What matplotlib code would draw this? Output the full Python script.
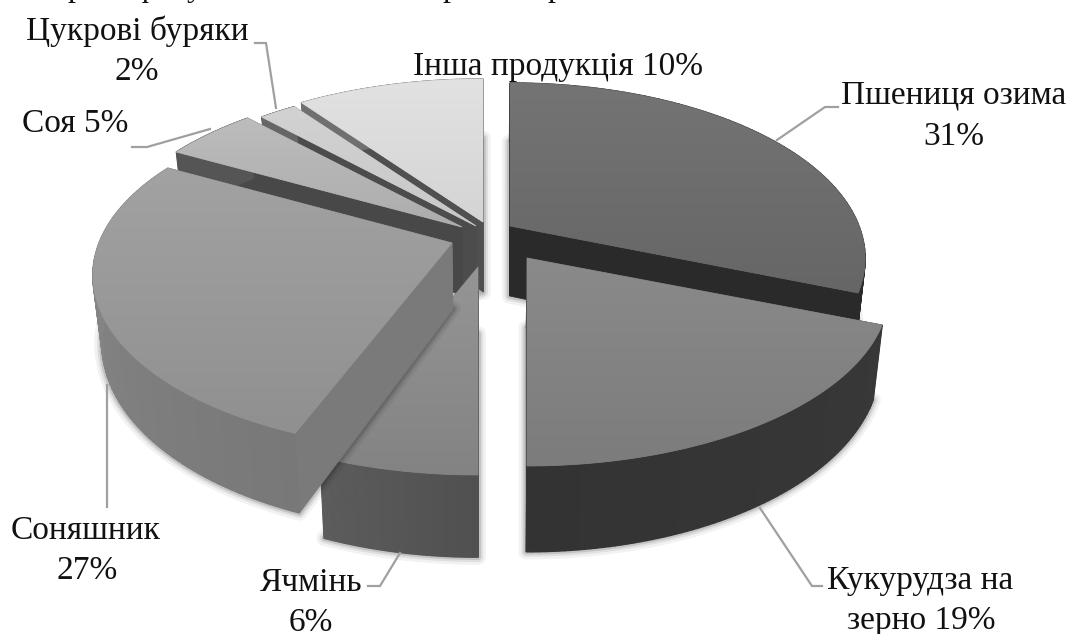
#!/usr/bin/env python3
# exploded pseudo-3D pie, drawn in pixel space with a small perspective model
import numpy as np
import matplotlib
matplotlib.use("Agg")
import matplotlib.pyplot as plt
from matplotlib.patches import Polygon

plt.rcParams["font.family"] = ["Liberation Serif", "DejaVu Serif"]

# ---------- data ----------
crops = ["Пшениця озима", "Кукурудза на зерно", "Ячмінь", "Соняшник",
         "Соя", "Цукрові буряки", "Інша продукція"]
shares = [31, 19, 6, 27, 5, 2, 10]

# ---------- look ----------
RY, PERSP, SHRINK, VX = 169.5, 0.185, 0.977, 490
# per-slice explode offset (apex), half width and thickness, pixels
apex = [(510, 226), (527, 258), (478, 267), (452, 243), (462, 227), (476, 226), (483, 222)]
rx = [349, 356, 355, 353, 355, 355, 355]
depth = [70, 70, 67, 66, 68, 68, 70]
top_col = [("#747474", "#666666"), ("#8a8a8a", "#7c7c7c"), ("#959595", "#838383"),
           ("#a2a2a2", "#909090"), ("#bcbcbc", "#adadad"), ("#d2d2d2", "#c8c8c8"),
           ("#e2e2e2", "#d4d4d4")]
wall_col = [("#2a2a2a", "#2a2a2a"), ("#383838", "#333333"), ("#505050", "#5c5c5c"),
            ("#787878", "#8c8c8c"), ("#555555", "#555555"), ("#666666", "#666666"),
            ("#707070", "#707070")]
radial_col = ["#2a2a2a", "#383838", "#505050", "#7a7a7a", "#484848", "#4c4c4c", "#505050"]
draw_order = [6, 5, 4, 2, 3, 0, 1]

fig = plt.figure(figsize=(10.7, 6.34), dpi=100)
ax = fig.add_axes([0, 0, 1, 1])


def project(i, theta):
    # theta runs clockwise from 12 o'clock
    x, y = np.sin(theta), np.cos(theta)
    w = 1 + PERSP * y
    return apex[i][0] + rx[i] * x / w, apex[i][1] - RY * y / w, w


def lower(i, px, py, w):
    return VX + (px - VX) * SHRINK, py + depth[i] / w


def mix(c1, c2, t):
    a = np.array(matplotlib.colors.to_rgb(c1))
    b = np.array(matplotlib.colors.to_rgb(c2))
    return a + (b - a) * t


def draw_slice(i, t0, t1, z):
    th = np.linspace(t0, t1, 80)
    sx, sy, w = project(i, th)
    bx, by = lower(i, sx, sy, w)
    ax0, ay0 = apex[i]
    abx, aby = lower(i, ax0, ay0, 1.0)

    # soft shadow round the lower rim, front part of the arc only
    keep = np.cos(th) < 0.05
    keep[0] = keep[-1] = True
    sil = np.column_stack([np.r_[abx, bx[keep]], np.r_[aby, by[keep]]])
    for lw, al in [(11, 0.05), (7, 0.08), (4, 0.12)]:
        ax.add_patch(Polygon(sil, closed=True, fc="none", ec="black", lw=lw, alpha=al,
                             joinstyle="round", zorder=z))

    # radial walls
    for k in (0, -1):
        quad = [(ax0, ay0), (sx[k], sy[k]), (bx[k], by[k]), (abx, aby)]
        ax.add_patch(Polygon(quad, closed=True, fc=radial_col[i], ec=radial_col[i], lw=0.5, zorder=z))

    # outer wall as thin quads
    for k in range(len(th) - 1):
        col = mix(*wall_col[i], k / (len(th) - 2))
        quad = [(sx[k], sy[k]), (sx[k + 1], sy[k + 1]), (bx[k + 1], by[k + 1]), (bx[k], by[k])]
        ax.add_patch(Polygon(quad, closed=True, fc=col, ec=col, lw=1.0, zorder=z))

    # top face with a gentle vertical gradient
    poly = Polygon(np.column_stack([np.r_[ax0, sx], np.r_[ay0, sy]]), closed=True,
                   fc=top_col[i][1], ec=top_col[i][1], lw=0.6, zorder=z + 0.0005)
    ax.add_patch(poly)
    c0, c1 = mix(*top_col[i], 0), mix(*top_col[i], 1)
    grad = np.linspace(0, 1, 64)[:, None, None] * (c1 - c0) + c0
    y0, y1 = min(ay0, sy.min()), max(ay0, sy.max())
    x0, x1 = min(ax0, sx.min()), max(ax0, sx.max())
    im = ax.imshow(grad, extent=(x0, x1, y1, y0), aspect="auto", zorder=z + 0.001,
                   interpolation="bilinear")
    im.set_clip_path(poly)


# ---------- slices ----------
edges = np.r_[0, np.cumsum(shares)] / sum(shares) * 2 * np.pi
for n, i in enumerate(draw_order):
    draw_slice(i, edges[i], edges[i + 1], 2 + n * 0.01)

# ---------- leaders ----------
leaders = [
    [(255, 43), (266, 43), (276, 108)],
    [(132, 147), (147, 147), (210, 129)],
    [(838, 107), (825, 107), (777, 140)],
    [(760, 508), (812, 586), (822, 586)],
    [(107, 385), (107, 507)],
    [(400, 553), (380, 586), (368, 586)],
]
for pts in leaders:
    xs, ys = zip(*pts)
    ax.plot(xs, ys, color="#a0a0a0", lw=1.6, zorder=3, solid_joinstyle="round")

# ---------- labels ----------
FS = 24
labels = [
    (137, 31, crops[5]), (137, 72, f"{shares[5]}%"),
    (558, 67, f"{crops[6]} {shares[6]}%"),
    (75, 124, f"{crops[4]} {shares[4]}%"),
    (954, 95, crops[0]), (954, 137, f"{shares[0]}%"),
    (920, 581, "Кукурудза на"), (921, 621, f"зерно {shares[1]}%"),
    (86, 531, crops[3]), (87, 571, f"{shares[3]}%"),
    (311, 583, crops[2]), (311, 623, f"{shares[2]}%"),
]
for x, y, s in labels:
    ax.text(x, y, s, ha="center", va="center", fontsize=FS, color="#111111", zorder=4)

# line of body text cut off by the top edge: only descenders remain
for x, s in [(75, "р"), (145, "ф"), (195, "у"), (450, "р"), (555, "р")]:
    ax.text(x, -4, s, ha="center", va="baseline", fontsize=23, color="#111111", zorder=4)

ax.set_xlim(0, 1070)
ax.set_ylim(634, 0)
ax.axis("off")
fig.savefig("out.png", dpi=100)
